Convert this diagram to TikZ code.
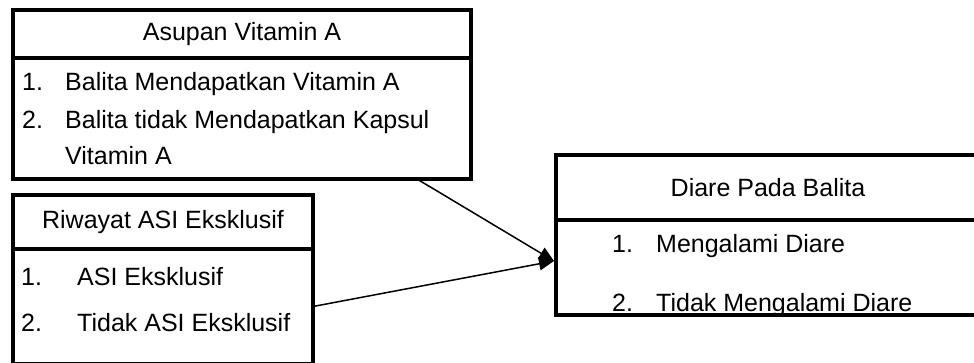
\documentclass[tikz,border=0pt]{standalone}
\usepackage{fontspec}
\setmainfont{Liberation Sans}
\usetikzlibrary{arrows.meta}
\usetikzlibrary{positioning}

\begin{document}
\begin{tikzpicture}[x=1pt,y=-1pt,->,>={Triangle[length=15pt,width=13pt]},
    head box/.style={draw,rectangle,line width=4.5pt,inner sep=0pt,outer sep=0pt,font=\fontsize{25}{30}\selectfont},
    list box/.style={draw,rectangle,line width=4.5pt,inner sep=0pt,outer sep=0pt},
    list item/.style={anchor=base west,inner sep=0pt,font=\fontsize{25}{30}\selectfont}]

   \clip (0,0) rectangle (974,363);

   % Asupan Vitamin A
   \node[head box, minimum width=458, minimum height=48] (asupan) at (242,34) {Asupan Vitamin A};
   \node[list box, minimum width=458, minimum height=121, below=0pt of asupan] (asupanlist) {};
   \node[list item] (vitA1) at (22,91) {\makebox[43pt][l]{1.}Balita Mendapatkan Vitamin A};
   \node[list item] (vitA2) at (22,129) {\makebox[43pt][l]{2.}Balita tidak Mendapatkan Kapsul};
   \node[list item] (vitA2b) at (65,165) {Vitamin A};

   % Riwayat ASI Eksklusif
   \node[head box, minimum width=300, minimum height=54] (asi) at (163,222) {Riwayat ASI Eksklusif};
   \node[list box, minimum width=300, minimum height=115, below=0pt of asi] (asilist) {};
   \node[list item] (asi1) at (21,286) {\makebox[56pt][l]{1.}ASI Eksklusif};
   \node[list item] (asi2) at (21,331) {\makebox[56pt][l]{2.}Tidak ASI Eksklusif};

   % Diare Pada Balita
   \node[head box, minimum width=424, minimum height=65] (diare) at (768,187.5) {Diare Pada Balita};
   \node[list box, minimum width=424, minimum height=95, below=0pt of diare] (diarelist) {};
   \node[list item] (diare1) at (612,253) {\makebox[44pt][l]{1.}Mengalami Diare};
   \begin{scope}
    \clip (diarelist.north west) rectangle ([yshift=2pt]diarelist.south east);
    \node[list item] (diare2) at (612,311) {\makebox[44pt][l]{2.}Tidak Mengalami Diare};
   \end{scope}

   \coordinate (vitA out) at ([xshift=175pt]asupanlist.south);
   \coordinate (diare in) at ([xshift=-2pt,yshift=6.5pt]diarelist.west);
   \draw[line width=1.5pt] (vitA out) -- (diare in);
   \draw[line width=1.5pt] (asilist.east) -- (diare in);
\end{tikzpicture}
\end{document}
